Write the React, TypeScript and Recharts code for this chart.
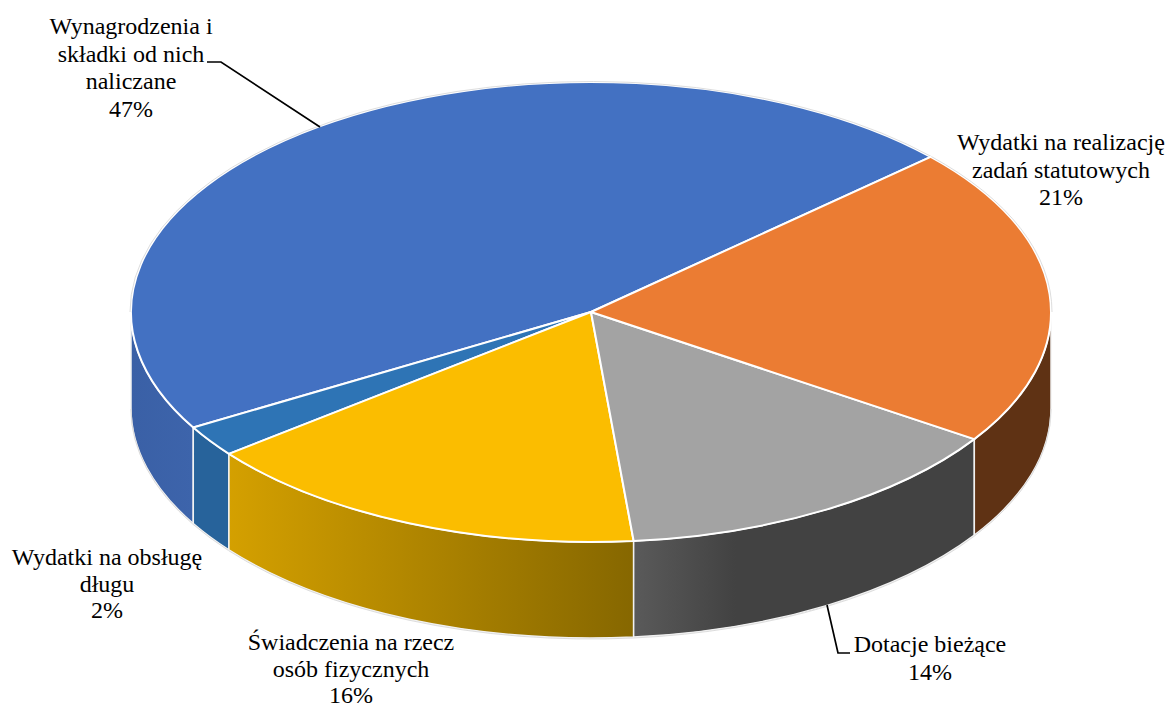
import React from "react";
import { PieChart, Pie } from "recharts";

const categoryLines: string[][] = [
  ["Wynagrodzenia i", "składki od nich", "naliczane"],
  ["Wydatki na obsługę", "długu"],
  ["Świadczenia na rzecz", "osób fizycznych"],
  ["Dotacje bieżące"],
  ["Wydatki na realizację", "zadań statutowych"],
];
const shares = [46.6, 2.2, 15.9, 14.2, 21.1];

const topColors = ["#4371C2", "#2E74B5", "#FBBD00", "#A3A3A3", "#EB7C33"];
const wallGradients = [
  ["#3A60A6", "#3D64AB"],
  ["#27639B", "#27639B"],
  ["#D4A000", "#866700"],
  ["#5A5A5A", "#424242"],
  ["#5F3214", "#5F3214"],
];

const W = 1168, H = 709, CX = 591, CY = 312, R = 460, SQUASH = 0.5, DEPTH = 96, START = 42.4;
const FONT = 24;
const EDGE = "#d4d4d4";

const labelLayout = [
  { x: 131, y: 34, line: 27.7 },
  { x: 107, y: 565, line: 26.5 },
  { x: 351, y: 650, line: 26.6 },
  { x: 930, y: 652, line: 27.7 },
  { x: 1061, y: 150, line: 27.7 },
];
const leaders: (string | null)[] = [
  "M207,62 L221,62 L320,127",
  null,
  null,
  "M850,653 L838,653 L827,605",
  null,
];

const pt = (cx: number, cy: number, r: number, deg: number) => {
  const a = (deg * Math.PI) / 180;
  return [cx + r * Math.cos(a), cy - r * SQUASH * Math.sin(a)];
};

const clip = (lo: number, hi: number, ranges: number[][]) => {
  const out: [number, number][] = [];
  for (const [s, e] of ranges) {
    const a = Math.max(lo, s), b = Math.min(hi, e);
    if (b > a) out.push([a, b]);
  }
  return out;
};

const TopSlice = (p: any) => {
  const { cx, cy, outerRadius: r, startAngle: a0, endAngle: a1, index } = p;
  const [x0, y0] = pt(cx, cy, r, a0);
  const [x1, y1] = pt(cx, cy, r, a1);
  const large = Math.abs(a1 - a0) > 180 ? 1 : 0;
  const lo = Math.min(a0, a1);
  const hi = Math.max(a0, a1);
  const rim = clip(lo, hi, [[0, 180], [360, 540]]);
  const rr = r + 1;
  return (
    <g>
      <path
        d={`M${cx},${cy} L${x0},${y0} A${r},${r * SQUASH} 0 ${large} 0 ${x1},${y1} Z`}
        fill={topColors[index]}
        stroke="#fff"
        strokeWidth={2}
        strokeLinejoin="round"
      />
      {rim.map(([a, b], i) => {
        const [u0, v0] = pt(cx, cy, rr, a);
        const [u1, v1] = pt(cx, cy, rr, b);
        return (
          <path
            key={i}
            d={`M${u0},${v0} A${rr},${rr * SQUASH} 0 0 0 ${u1},${v1}`}
            fill="none"
            stroke={EDGE}
            strokeWidth={0.8}
          />
        );
      })}
    </g>
  );
};

const WallSlice = (p: any) => {
  const { cx, cy, outerRadius: r, startAngle, endAngle, index } = p;
  const lo = Math.min(startAngle, endAngle);
  const hi = Math.max(startAngle, endAngle);
  const parts = clip(lo, hi, [[180, 360], [540, 720]]);
  const id = `wall-${index}`;
  return (
    <g>
      <defs>
        <linearGradient id={id} x1="0" x2="1" y1="0" y2="0">
          <stop offset="0" stopColor={wallGradients[index][0]} />
          <stop offset={index === 3 ? "0.3" : "1"} stopColor={wallGradients[index][1]} />
        </linearGradient>
      </defs>
      {parts.map(([a, b], i) => {
        const [x0, y0] = pt(cx, cy, r, a);
        const [x1, y1] = pt(cx, cy, r, b);
        const ry = r * SQUASH;
        return (
          <g key={i}>
            <path
              d={`M${x0},${y0} A${r},${ry} 0 0 0 ${x1},${y1} L${x1},${y1 + DEPTH} A${r},${ry} 0 0 1 ${x0},${y0 + DEPTH} Z`}
              fill={`url(#${id})`}
              stroke="#f2f2f2"
              strokeWidth={1.5}
            />
            <path
              d={`M${x0},${y0 + DEPTH + 1} A${r},${ry} 0 0 0 ${x1},${y1 + DEPTH + 1}`}
              fill="none"
              stroke={EDGE}
              strokeWidth={0.8}
            />
          </g>
        );
      })}
    </g>
  );
};

const SliceLabel = (p: any) => {
  const i = p.index;
  const { x, y, line } = labelLayout[i];
  const lines = [...categoryLines[i], `${Math.round(shares[i])}%`];
  return (
    <g>
      {leaders[i] && <path d={leaders[i] as string} fill="none" stroke="#000" strokeWidth={1.7} />}
      <text x={x} y={y} textAnchor="middle" fontFamily="'Liberation Serif', serif" fontSize={FONT} fill="#000">
        {lines.map((t, k) => (
          <tspan key={k} x={x} y={y + k * line}>
            {t}
          </tspan>
        ))}
      </text>
    </g>
  );
};

const data = shares.map((value, i) => ({ name: categoryLines[i].join(" "), value }));

export default function App() {
  return (
    <div style={{ position: "absolute", left: 0, top: 0, width: W, height: H, background: "#fff" }}>
      <PieChart width={W} height={H} margin={{ top: 0, right: 0, bottom: 0, left: 0 }}>
        <Pie
          data={data}
          dataKey="value"
          cx={CX}
          cy={CY}
          innerRadius={0}
          outerRadius={R}
          startAngle={START}
          endAngle={START + 360}
          paddingAngle={0}
          shape={WallSlice}
          isAnimationActive={false}
          legendType="none"
        />
        <Pie
          data={data}
          dataKey="value"
          cx={CX}
          cy={CY}
          innerRadius={0}
          outerRadius={R}
          startAngle={START}
          endAngle={START + 360}
          paddingAngle={0}
          shape={TopSlice}
          label={SliceLabel}
          labelLine={false}
          isAnimationActive={false}
          legendType="none"
        />
      </PieChart>
    </div>
  );
}
